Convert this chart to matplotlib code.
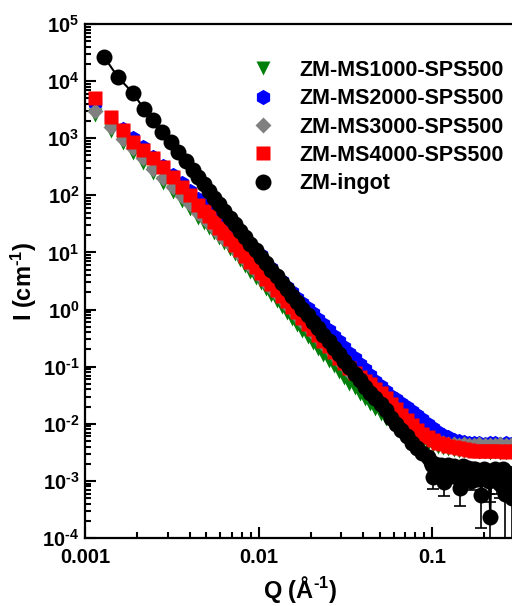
import numpy as np
import matplotlib
matplotlib.use('Agg')
import matplotlib.pyplot as plt
from matplotlib.ticker import LogLocator, FuncFormatter, FixedLocator, FixedFormatter, NullFormatter

plt.rcParams['font.family'] = ['Liberation Sans', 'DejaVu Sans']
plt.rcParams['font.weight'] = 'bold'
plt.rcParams['mathtext.fontset'] = 'custom'
plt.rcParams['mathtext.rm'] = 'Liberation Sans:bold'
plt.rcParams['mathtext.bf'] = 'Liberation Sans:bold'
plt.rcParams['mathtext.default'] = 'rm'

## Q (A^-1) shared by the SPS500 samples
q = [0.00114, 0.00141, 0.00166, 0.00189, 0.00216, 0.00247, 0.00282, 0.0032, 0.0036, 0.0040, 0.0045,
     0.00482, 0.00516, 0.00553, 0.00593, 0.00635, 0.00681, 0.00729, 0.00782, 0.00838, 0.00897,
     0.00962, 0.0103, 0.0110, 0.0118, 0.0127, 0.0136, 0.0146, 0.0156, 0.0167, 0.0179,
     0.0192, 0.0206, 0.0220, 0.0236, 0.0253, 0.0271, 0.0290, 0.0311, 0.0333, 0.0357,
     0.0383, 0.0410, 0.0440, 0.0471, 0.0505, 0.0541, 0.0579, 0.0621, 0.0665, 0.0713,
     0.0764, 0.0818, 0.0877, 0.0940, 0.1007, 0.108, 0.116, 0.124, 0.133, 0.142,
     0.152, 0.163, 0.175, 0.187, 0.201, 0.215, 0.231, 0.247, 0.265, 0.284, 0.304]

I_ms1000 = [2510, 1318, 813, 550, 372, 245, 166, 115, 79.4, 57.5, 40.7,
            33.1, 26.9, 21.9, 17.8, 14.5, 11.7, 9.44, 7.45, 5.86, 4.61,
            3.63, 2.86, 2.25, 1.77, 1.40, 1.10, 0.865, 0.682, 0.537, 0.423,
            0.333, 0.262, 0.206, 0.163, 0.128, 0.101, 0.0793, 0.0625, 0.0492, 0.0418,
            0.0336, 0.0271, 0.0220, 0.0180, 0.0148, 0.0123, 0.0104, 0.0088, 0.0076, 0.0067,
            0.0059, 0.0053, 0.0048, 0.0045, 0.0042, 0.0040, 0.0038, 0.0036, 0.0035, 0.0034,
            0.0034, 0.0033, 0.0033, 0.0032, 0.0032, 0.0031, 0.0032, 0.0031, 0.0031, 0.0032, 0.0031]

I_ms2000 = [4.2e3, 2.3e3, 1.45e3, 1000, 692, 468, 324, 224, 162, 120, 85.1,
            76.9, 63.4, 52.2, 43.1, 35.5, 29.2, 24.1, 19.9, 16.4, 13.5,
            11.1, 9.10, 6.6, 5.3, 3.85, 3.10, 2.50, 2.02, 1.62, 1.31,
            1.06, 0.856, 0.690, 0.554, 0.441, 0.351, 0.279, 0.222, 0.177, 0.141,
            0.112, 0.0896, 0.0711, 0.0566, 0.0451, 0.0376, 0.0308, 0.0268, 0.0232, 0.0197,
            0.0168, 0.0145, 0.0120, 0.0100, 0.0085, 0.0073, 0.0064, 0.0058, 0.0053, 0.0050,
            0.0048, 0.0047, 0.0046, 0.0047, 0.0045, 0.0046, 0.0047, 0.0045, 0.0046, 0.0044, 0.0046]

I_ms3000 = [3020, 1585, 977, 661, 447, 295, 200, 138, 95.5, 69.2, 49.0,
            39.8, 32.4, 26.3, 21.4, 17.4, 14.1, 11.4, 9.12, 7.29, 5.82,
            4.65, 3.72, 2.97, 2.37, 1.90, 1.51, 1.21, 0.966, 0.771, 0.617,
            0.492, 0.394, 0.314, 0.251, 0.200, 0.160, 0.128, 0.102, 0.0817, 0.0696,
            0.0564, 0.0460, 0.0376, 0.0309, 0.0255, 0.0213, 0.0179, 0.0145, 0.0120, 0.0100,
            0.0085, 0.0073, 0.0064, 0.0057, 0.0052, 0.0049, 0.0047, 0.0045, 0.0044, 0.0043,
            0.0044, 0.0043, 0.0042, 0.0044, 0.0043, 0.0042, 0.0043, 0.0044, 0.0043, 0.0042, 0.0043]

I_ms4000 = [5.0e3, 2.34e3, 1.38e3, 851, 617, 447, 316, 209, 141, 100, 67.6,
            53.8, 42.9, 34.1, 27.2, 21.6, 17.2, 13.7, 10.9, 8.69, 6.92,
            5.51, 4.39, 3.49, 2.78, 2.21, 1.76, 1.40, 1.12, 0.889, 0.708,
            0.564, 0.449, 0.357, 0.284, 0.226, 0.180, 0.144, 0.114, 0.093, 0.078,
            0.066, 0.057, 0.049, 0.041, 0.034, 0.028, 0.0225, 0.018, 0.0143, 0.0115,
            0.0094, 0.0079, 0.0067, 0.0058, 0.0052, 0.0047, 0.0044, 0.0041, 0.0039, 0.0038,
            0.0036, 0.0035, 0.0034, 0.0034, 0.0033, 0.0034, 0.0033, 0.0033, 0.0032, 0.0033, 0.0033]

## ZM-ingot
q_ingot = [0.00129, 0.00155, 0.00189, 0.00219, 0.00247, 0.00279, 0.00314, 0.00345, 0.0038, 0.0042, 0.0045,
           0.00482, 0.00516, 0.00553, 0.00593, 0.00635, 0.00681, 0.00729, 0.00782, 0.00838, 0.00897,
           0.00962, 0.0103, 0.0110, 0.0118, 0.0127, 0.0136, 0.0146, 0.0156, 0.0167, 0.0179,
           0.0192, 0.0206, 0.0220, 0.0236, 0.0253, 0.0271, 0.0290, 0.0311, 0.0333, 0.0357,
           0.0383, 0.0410, 0.0440, 0.0471, 0.0505, 0.0541, 0.0579, 0.0621, 0.0665, 0.0713,
           0.0764, 0.0818, 0.0877, 0.0940,
           0.098, 0.0995, 0.101, 0.104, 0.106, 0.108, 0.110, 0.112, 0.114, 0.117,
           0.120, 0.122, 0.124, 0.126, 0.129, 0.131, 0.133, 0.135, 0.138, 0.140,
           0.142, 0.145, 0.147, 0.150, 0.152, 0.155, 0.157, 0.160, 0.162, 0.165,
           0.167, 0.170, 0.173, 0.176, 0.178, 0.181, 0.184, 0.187, 0.189, 0.192,
           0.195, 0.198, 0.201, 0.204, 0.207, 0.210, 0.213, 0.216, 0.219, 0.222,
           0.225, 0.229, 0.232, 0.236, 0.239, 0.243, 0.246, 0.250, 0.253, 0.257,
           0.260, 0.264, 0.268, 0.272, 0.276, 0.280, 0.284, 0.288, 0.292, 0.296]
I_ingot = [2.63e4, 1.17e4, 6.17e3, 3.24e3, 2.09e3, 1.29e3, 851, 575, 398, 282, 209,
           158, 120, 91.2, 69.2, 53.2, 40.9, 31.5, 24.2, 18.6, 14.3,
           11.0, 8.47, 6.52, 5.01, 3.85, 2.96, 2.28, 1.75, 1.35, 1.04,
           0.798, 0.614, 0.472, 0.363, 0.279, 0.215, 0.165, 0.127, 0.0977, 0.0752,
           0.0578, 0.0445, 0.0342, 0.0280, 0.0219, 0.0173, 0.0125, 0.0098, 0.0077, 0.0060,
           0.0047, 0.0038, 0.0031, 0.0026,
           0.0021, 0.0019, 0.00117, 0.0020, 0.0016, 0.0018, 0.0015, 0.0019, 0.0014, 0.00095,
           0.0017, 0.0014, 0.0019, 0.0013, 0.0016, 0.0012, 0.0018, 0.0014, 0.0015, 0.0012,
           0.0017, 0.00074, 0.0013, 0.0018, 0.0012, 0.0014, 0.0011, 0.0017, 0.0013, 0.0015,
           0.0010, 0.0012, 0.0016, 0.0016, 0.0011, 0.0014, 0.0013, 0.0011, 0.0015, 0.00056,
           0.0012, 0.0016, 0.0011, 0.0013, 0.0014, 0.0015, 0.0010, 0.00023, 0.0013, 0.0012,
           0.0015, 0.0016, 0.0011, 0.0010, 0.0014, 0.0014, 0.0009, 0.0013, 0.0012, 0.0016,
           0.0011, 0.0006, 0.0013, 0.0014, 0.0010, 0.0012, 0.0013, 0.0005, 0.0011, 0.0013]

# ingot points whose error bars stick out below the cloud
q_err = [0.101, 0.117, 0.145, 0.167, 0.192, 0.213, 0.216, 0.236, 0.246, 0.264, 0.288]
I_err = [0.00117, 0.00095, 0.00074, 0.0010, 0.00056, 0.0010, 0.00023, 0.0010, 0.0009, 0.0006, 0.0005]
e_err = [0.00045, 0.0004, 0.00038, 0.0003, 0.00041, 0.0004, 0.0002, 0.0004, 0.0004, 0.0006, 0.0005]

fig = plt.figure(figsize=(5.12, 6.06), dpi=100)
ax = fig.add_axes([85/512., 68/606., 430/512., 514/606.])

ax.plot(q, I_ms1000, 'v', color='#00800a', ms=10, mec='none', label='ZM-MS1000-SPS500', zorder=2)
ax.plot(q, I_ms2000, 'h', color='#0000ff', ms=11, mec='none', label='ZM-MS2000-SPS500', zorder=3)
ax.plot(q, I_ms3000, 'D', color='#808080', ms=8.5, mec='none', label='ZM-MS3000-SPS500', zorder=4)
ax.plot(q, I_ms4000, 's', color='#ff0000', ms=10.5, mec='none', label='ZM-MS4000-SPS500', zorder=5)
ax.errorbar(q_err, I_err, yerr=e_err, fmt='none', ecolor='k',
            elinewidth=1.2, capsize=4, capthick=1.2, zorder=6)
ax.plot(q_ingot, I_ingot, '-', color='k', lw=1.5, zorder=6)
ax.plot(q_ingot, I_ingot, 'o', color='k', ms=11.5, mec='none', label='ZM-ingot', zorder=7)

ax.set_xscale('log')
ax.set_yscale('log')
ax.set_xlim(0.001, 0.3)
ax.set_ylim(1e-4, 1e5)

def pow10(v, pos):
    e = int(round(np.log10(v)))
    s = str(e).replace('-', '\u2010')
    return r'$\mathdefault{10^{%s}}$' % s

ax.yaxis.set_major_locator(LogLocator(base=10, numticks=20))
ax.yaxis.set_minor_locator(LogLocator(base=10, subs=np.arange(2, 10), numticks=20))
ax.yaxis.set_major_formatter(FuncFormatter(pow10))
ax.yaxis.set_minor_formatter(NullFormatter())
ax.xaxis.set_major_locator(FixedLocator([0.001, 0.01, 0.1]))
ax.xaxis.set_major_formatter(FixedFormatter(['0.001', '0.01', '0.1']))
ax.xaxis.set_minor_locator(LogLocator(base=10, subs=np.arange(2, 10), numticks=20))
ax.xaxis.set_minor_formatter(NullFormatter())

ax.tick_params(which='both', direction='in', width=1.5, labelsize=14.5, top=False, right=False)
ax.tick_params(which='major', length=8)
ax.tick_params(which='minor', length=4.5)
ax.tick_params(axis='y', pad=4)
ax.tick_params(axis='x', pad=7)
for s in ax.spines.values():
    s.set_linewidth(1.6)
ax.spines['right'].set_visible(False)

ax.set_xlabel('Q (\u00c5$^{\u20101}$)', fontsize=17, fontweight='bold', labelpad=5)
ax.set_ylabel('I (cm$^{\u20101}$)', fontsize=17, fontweight='bold')
ax.yaxis.set_label_coords(-0.108, 0.5)

ax.legend(loc='upper left', bbox_to_anchor=(252/512., 1 - 60/606.), bbox_transform=fig.transFigure,
          frameon=False, handlelength=1.0, handletextpad=1.2, labelspacing=0.34,
          borderpad=0, borderaxespad=0, fontsize=15.5, numpoints=1)

fig.savefig('out.png', dpi=100)
